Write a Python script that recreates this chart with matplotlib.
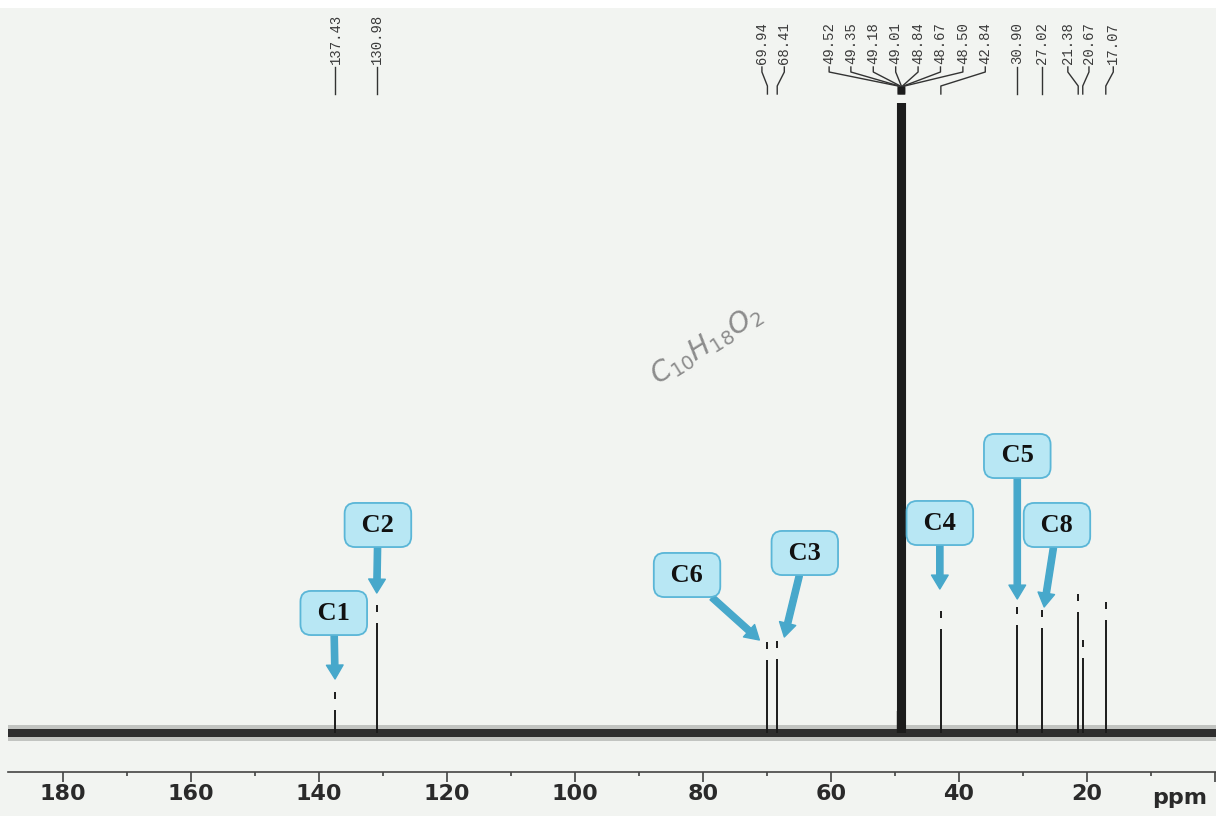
import matplotlib.pyplot as plt
import matplotlib.transforms as mtransforms
from matplotlib.patches import Rectangle

# 13C NMR spectrum (CD3OD), C10H18O2
# peak positions (ppm) and heights (arbitrary units, baseline = 0)
peak_ppm = [137.43, 130.98, 69.94, 68.41, 42.84, 30.90, 27.02, 21.38, 20.67, 17.07]
peak_height = [41, 128, 91, 92, 122, 126, 123, 139, 93, 131]

# solvent septet (CD3OD)
solvent_ppm = [49.52, 49.35, 49.18, 49.01, 48.84, 48.67, 48.50]
solvent_height = [630, 630, 630, 630, 630, 630, 630]

# printed peak list at the top of the sheet
label_values = ["137.43", "130.98", "69.94", "68.41", "49.52", "49.35", "49.18",
                "49.01", "48.84", "48.67", "48.50", "42.84", "30.90", "27.02",
                "21.38", "20.67", "17.07"]
label_target = [137.43, 130.98, 69.94, 68.41, 49.52, 49.35, 49.18, 49.01, 48.84,
                48.67, 48.50, 42.84, 30.90, 27.02, 21.38, 20.67, 17.07]
# where the printed text sits (ppm), spread out where crowded
label_pos = [137.43, 130.98, 70.8, 67.3, 60.3, 56.9, 53.4, 49.9, 46.4, 42.9,
             39.4, 35.9, 30.90, 27.02, 23.0, 19.7, 15.9]

# assignments
callout_names = ["C1", "C2", "C6", "C3", "C4", "C5", "C8"]
callout_box = [(137.7, 120), (130.8, 208), (82.5, 158), (64.1, 180),
               (43.0, 210), (30.9, 277), (24.7, 208)]
callout_tip = [(137.5, 54), (130.98, 140), (71.2, 93), (67.3, 96),
               (43.0, 144), (30.9, 134), (26.7, 126)]

x_ticks = [0, 20, 40, 60, 80, 100, 120, 140, 160, 180]
x_ticklabels = ["", "20", "40", "60", "80", "100", "120", "140", "160", "180"]

paper = "#f2f4f1"
ink = "#1c1c1c"

fig = plt.figure(figsize=(12.16, 8.16), dpi=100, facecolor=paper)
fig.patches.append(Rectangle((0, 1 - 8 / 816), 1, 8 / 816, transform=fig.transFigure,
                             facecolor="white", edgecolor="none", zorder=0))

ax = fig.add_axes([8 / 1216, 44 / 816, 1 - 8 / 1216, 772 / 816])
ax.set_facecolor("none")
ax.set_xlim(188.6, -0.15)
ax.set_ylim(-39, 733)

# baseline noise band
xl = [188.6, -0.15]
ax.fill_between(xl, -8, 8, color="#555555", alpha=0.3, lw=0)
ax.fill_between(xl, -4, 4, color="#2e2e2e", lw=0)

# peaks (with the little print gap near the top)
tops = peak_height
ax.vlines(peak_ppm, 0, [h - 18 for h in tops], color=ink, lw=1.4)
ax.vlines(peak_ppm, [h - 7 for h in tops], tops, color=ink, lw=1.4)
ax.vlines(solvent_ppm, 0, solvent_height, color=ink, lw=1.5)
ax.vlines([49.01], 0, 22, color=ink, lw=6)

# peak list with connector lines
for txt, tgt, pos in zip(label_values, label_target, label_pos):
    ax.text(pos, 669, txt, rotation=90, ha="center", va="bottom",
            family="Liberation Mono", fontsize=10, color="#3a3a3a")
    ax.plot([pos, pos, tgt, tgt], [666, 661, 647, 639], color="#333333", lw=1)
ax.plot([49.01], [643], marker="s", ms=5, color=ink)

# callouts
for name, box, tip in zip(callout_names, callout_box, callout_tip):
    ax.annotate(" " + name + " ", xy=tip, xytext=box, ha="center", va="center",
                family="Liberation Serif", fontweight="bold", fontsize=19,
                color="#111111",
                bbox=dict(boxstyle="round,pad=0.4,rounding_size=0.4",
                          fc="#b8e7f4", ec="#5ab6d7", lw=1.3),
                arrowprops=dict(arrowstyle="simple,head_length=1.0,head_width=1.2,tail_width=0.45",
                                fc="#47a8cb", ec="#47a8cb", mutation_scale=10,
                                shrinkA=0, shrinkB=0))

# handwritten formula
ax.text(79.5, 388, r"$C_{10}H_{18}O_2$", rotation=32, ha="center", va="center",
        fontsize=20, color="#8c8c8c", family="DejaVu Serif", style="italic")

# axis
for s in ["top", "left", "right"]:
    ax.spines[s].set_visible(False)
ax.spines["bottom"].set_color("#444444")
ax.spines["bottom"].set_linewidth(1.2)
ax.set_yticks([])
ax.set_xticks(x_ticks)
ax.set_xticklabels(x_ticklabels)
ax.set_xticks(range(10, 190, 20), minor=True)
ax.tick_params(axis="x", which="major", length=7, width=1.1, color="#333333",
               pad=2, labelsize=16, labelcolor="#2a2a2a")
ax.tick_params(axis="x", which="minor", length=3, width=1.1, color="#333333")
for lab in ax.get_xticklabels():
    lab.set_fontweight("bold")
    lab.set_family("DejaVu Sans")

trans = mtransforms.blended_transform_factory(ax.transData, ax.transAxes)
ax.text(5.5, -0.034, "ppm", transform=trans, ha="center", va="center",
        fontsize=16, fontweight="bold", family="DejaVu Sans", color="#2a2a2a")

fig.savefig("out.png", dpi=100, facecolor=paper)
